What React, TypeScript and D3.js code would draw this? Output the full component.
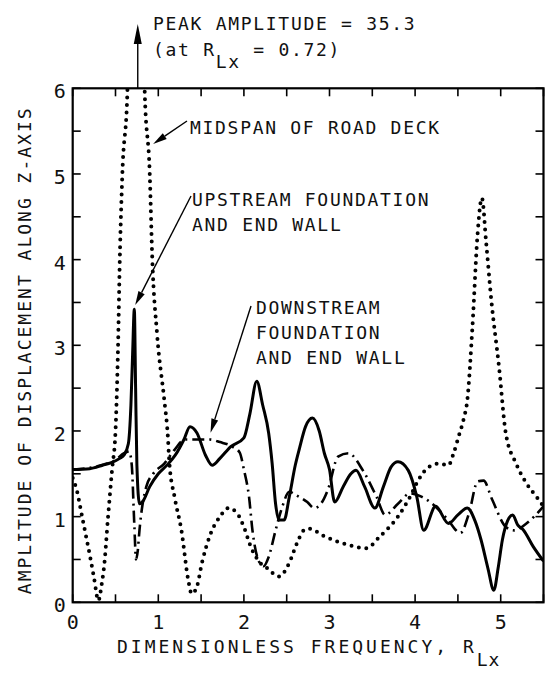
import React from "react";
import * as d3 from "d3";

// dimensionless frequency R_Lx vs amplitude
const midspanX = [0, 0.05, 0.1, 0.15, 0.2, 0.25, 0.3, 0.34, 0.37, 0.41, 0.46, 0.5, 0.53, 0.55, 0.58, 0.64, 0.7, 0.75, 0.8, 0.84, 0.9, 0.93, 0.985, 1.07, 1.11, 1.13, 1.19, 1.27, 1.35, 1.39, 1.45, 1.51, 1.6, 1.72, 1.82, 1.92, 2.0, 2.08, 2.19, 2.27, 2.41, 2.53, 2.62, 2.7, 2.76, 2.94, 3.22, 3.43, 3.59, 3.8, 3.94, 4.04, 4.16, 4.28, 4.39, 4.45, 4.51, 4.57, 4.61, 4.67, 4.73, 4.78, 4.83, 4.89, 4.98, 5.06, 5.18, 5.3, 5.42, 5.5];
const midspanY = [1.45, 1.3, 1.05, 0.8, 0.55, 0.28, 0.02, 0.22, 0.45, 0.96, 1.55, 2.0, 3.0, 4.0, 5.0, 6.0, 12, 35.3, 12, 6.0, 5.0, 4.0, 3.14, 2.36, 1.96, 1.62, 1.23, 0.84, 0.26, 0.1, 0.18, 0.46, 0.77, 1.0, 1.1, 1.04, 0.88, 0.65, 0.46, 0.4, 0.3, 0.46, 0.69, 0.84, 0.86, 0.77, 0.67, 0.63, 0.77, 1.0, 1.23, 1.43, 1.58, 1.62, 1.6, 1.74, 1.94, 2.15, 2.36, 3.22, 4.3, 4.72, 4.2, 3.53, 2.75, 1.97, 1.62, 1.39, 1.23, 1.12];

const upstreamX = [0, 0.2, 0.35, 0.45, 0.55, 0.6, 0.65, 0.68, 0.7, 0.72, 0.735, 0.75, 0.78, 0.82, 0.9, 1.0, 1.1, 1.2, 1.3, 1.37, 1.45, 1.55, 1.63, 1.72, 1.85, 2.0, 2.07, 2.15, 2.22, 2.29, 2.33, 2.37, 2.41, 2.47, 2.53, 2.6, 2.65, 2.72, 2.8, 2.88, 2.94, 3.0, 3.06, 3.16, 3.25, 3.31, 3.41, 3.53, 3.63, 3.72, 3.8, 3.92, 4.02, 4.1, 4.24, 4.39, 4.5, 4.61, 4.7, 4.77, 4.85, 4.92, 4.97, 5.02, 5.08, 5.14, 5.2, 5.26, 5.38, 5.5];
const upstreamY = [1.55, 1.56, 1.6, 1.63, 1.68, 1.72, 1.85, 2.3, 2.9, 3.42, 2.5, 1.6, 1.15, 1.18, 1.35, 1.5, 1.6, 1.72, 1.9, 2.05, 1.98, 1.72, 1.6, 1.68, 1.82, 1.92, 2.2, 2.58, 2.3, 1.97, 1.62, 1.15, 0.96, 0.96, 1.23, 1.6, 1.8, 2.05, 2.15, 2.0, 1.74, 1.55, 1.17, 1.35, 1.5, 1.54, 1.35, 1.1, 1.35, 1.58, 1.64, 1.54, 1.23, 0.84, 1.12, 0.92, 1.02, 1.1, 0.95, 0.73, 0.4, 0.14, 0.4, 0.73, 0.95, 1.02, 0.9, 0.85, 0.65, 0.48];

const downstreamX = [0, 0.2, 0.4, 0.5, 0.6, 0.66, 0.69, 0.72, 0.74, 0.76, 0.78, 0.86, 0.94, 1.07, 1.19, 1.31, 1.43, 1.6, 1.72, 1.86, 1.95, 2.0, 2.06, 2.1, 2.17, 2.23, 2.29, 2.37, 2.45, 2.53, 2.61, 2.74, 2.82, 2.9, 2.98, 3.1, 3.22, 3.39, 3.55, 3.65, 3.8, 3.94, 4.08, 4.2, 4.37, 4.53, 4.63, 4.73, 4.8, 4.9, 5.06, 5.16, 5.3, 5.5];
const downstreamY = [1.55, 1.57, 1.62, 1.66, 1.74, 1.76, 1.6, 0.9, 0.5, 0.6, 0.84, 1.35, 1.5, 1.62, 1.78, 1.9, 1.9, 1.9, 1.87, 1.82, 1.75, 1.55, 1.23, 0.84, 0.49, 0.42, 0.53, 0.84, 1.12, 1.29, 1.25, 1.17, 1.1, 1.15, 1.31, 1.7, 1.74, 1.54, 1.23, 1.02, 1.15, 1.27, 1.23, 1.15, 0.98, 0.81, 1.04, 1.41, 1.42, 1.2, 0.88, 0.84, 0.92, 1.12];

const xTicks = [0, 1, 2, 3, 4, 5];
const yTicks = [0, 1, 2, 3, 4, 5, 6];
const minorStep = 0.5;
const peakX = 0.76;

const W = 546;
const H = 676;
const m = { left: 72.7, right: 2.5, top: 88.3, bottom: 73.7 };
const font = "'DejaVu Sans Mono', 'Liberation Mono', monospace";

const x = d3.scaleLinear().domain([0, 5.5]).range([m.left, W - m.right]);
const y = d3.scaleLinear().domain([0, 6]).range([H - m.bottom, m.top]);

const zip = (xs: number[], ys: number[]) => xs.map((v, i) => [v, ys[i]] as [number, number]);
const line = d3.line<[number, number]>().x(d => x(d[0])).y(d => y(d[1])).curve(d3.curveMonotoneX);

// filled narrow arrowhead pointing at (x2,y2)
function arrow(x1: number, y1: number, x2: number, y2: number, len = 14, half = 3.5) {
  const a = Math.atan2(y2 - y1, x2 - x1);
  const bx = x2 - len * Math.cos(a), by = y2 - len * Math.sin(a);
  const px = -Math.sin(a) * half, py = Math.cos(a) * half;
  return (
    <g>
      <line x1={x1} y1={y1} x2={bx} y2={by} stroke="#000" strokeWidth={1.4} />
      <path d={`M${x2},${y2}L${bx + px},${by + py}L${bx - px},${by - py}Z`} fill="#000" />
    </g>
  );
}

export default function App() {
  const minors = d3.range(0, 5.5 + 1e-9, minorStep);
  const minorsY = d3.range(0, 6 + 1e-9, minorStep);
  const x0 = x(0), x1 = x(5.5), y0 = y(0), y1 = y(6);
  const tl = 8;
  const txt = { fontFamily: font, fontSize: 18, letterSpacing: 1.7, fill: "#111" } as const;
  return (
    <svg width={W} height={H} style={{ position: "absolute", left: 0, top: 0, background: "#fff" }}>
      <defs>
        <clipPath id="plot">
          <rect x={x0} y={y1} width={x1 - x0} height={y0 - y1} />
        </clipPath>
      </defs>

      {/* ticks on all four sides */}
      <g stroke="#000" strokeWidth={1.6}>
        {minors.map(v => (
          <g key={"x" + v}>
            <line x1={x(v)} x2={x(v)} y1={y0} y2={y0 - tl} />
            <line x1={x(v)} x2={x(v)} y1={y1} y2={y1 + tl} />
          </g>
        ))}
        {minorsY.map(v => (
          <g key={"y" + v}>
            <line x1={x0} x2={x0 + tl} y1={y(v)} y2={y(v)} />
            <line x1={x1} x2={x1 - tl} y1={y(v)} y2={y(v)} />
          </g>
        ))}
      </g>
      <rect x={x0} y={y1} width={x1 - x0} height={y0 - y1} fill="none" stroke="#000" strokeWidth={2.2} />

      <g clipPath="url(#plot)" fill="none">
        <path d={line(zip(midspanX, midspanY)) ?? ""} stroke="#000" strokeWidth={4} strokeDasharray="0 7.5" strokeLinecap="round" />
        <path d={line(zip(downstreamX, downstreamY)) ?? ""} stroke="#000" strokeWidth={2.6} strokeDasharray="12 5 2 5" />
        <path d={line(zip(upstreamX, upstreamY)) ?? ""} stroke="#000" strokeWidth={3} strokeLinejoin="round" />
      </g>

      {/* tick labels */}
      <g style={{ fontFamily: font, fontSize: 20 }} fill="#111">
        {xTicks.map(v => (
          <text key={v} x={x(v)} y={y0 + 27} textAnchor="middle">{v}</text>
        ))}
        {yTicks.map(v => (
          <text key={v} x={x0 - 7} y={y(v) + 10} textAnchor="end">{v}</text>
        ))}
      </g>

      {/* axis titles */}
      <text x={117} y={653} style={{ ...txt, letterSpacing: 3 }}>
        DIMENSIONLESS FREQUENCY, R<tspan dy={13} style={{ letterSpacing: 1 }}>Lx</tspan>
      </text>
      <text transform={`translate(31,${(y0 + y1) / 2 + 5}) rotate(-90)`} textAnchor="middle" style={{ ...txt, letterSpacing: 2 }}>
        AMPLITUDE OF DISPLACEMENT ALONG Z-AXIS
      </text>

      {/* annotations */}
      {arrow(x(peakX), y1, x(peakX), 24, 20, 4)}
      <text x={153} y={30} style={txt}>PEAK AMPLITUDE = 35.3</text>
      <text x={153} y={56} style={txt}>
        (at R<tspan dy={12}>Lx</tspan><tspan dy={-12}> = 0.72)</tspan>
      </text>

      {arrow(187, 121, x(0.94), y(5.35))}
      <text x={190} y={134} style={txt}>MIDSPAN OF ROAD DECK</text>

      {arrow(191, 196, x(0.73), y(3.47))}
      <text x={192} y={206} style={txt}>UPSTREAM FOUNDATION</text>
      <text x={192} y={231} style={txt}>AND END WALL</text>

      {arrow(251, 306, x(1.61), y(1.98))}
      <text x={256} y={314} style={txt}>DOWNSTREAM</text>
      <text x={256} y={339} style={txt}>FOUNDATION</text>
      <text x={256} y={364} style={txt}>AND END WALL</text>
    </svg>
  );
}
